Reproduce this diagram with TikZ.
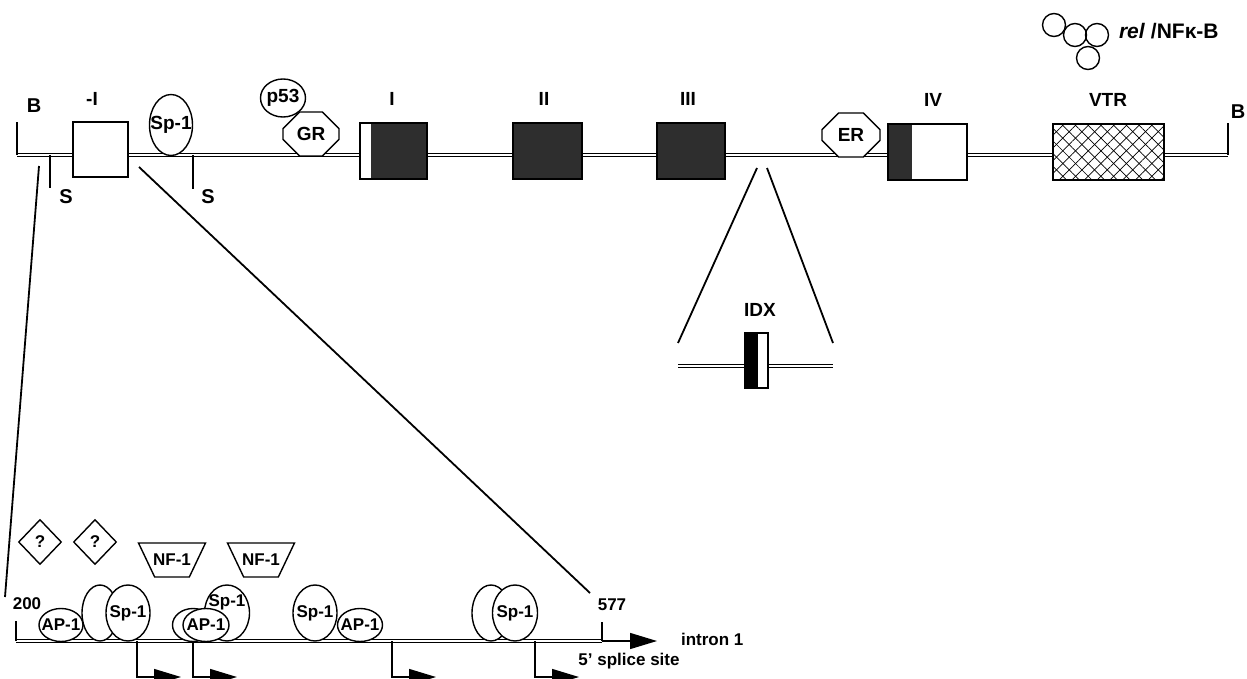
\documentclass[tikz,border=0pt]{standalone}
\usepackage{fontspec}
\setmainfont{Liberation Sans}
\usetikzlibrary{shapes.geometric,shapes.misc,arrows.meta,patterns.meta}

\begin{document}
\begin{tikzpicture}[x=1pt, y=-1pt, line width=1.4pt,
  font=\fontsize{17}{20}\selectfont\bfseries,
  dna/.style={double, double distance=1.6pt, line width=0.8pt},
  exon/.style={draw, fill=black!82, minimum height=56pt, inner sep=0pt},
  fac/.style={draw, fill=white, ellipse, inner sep=1pt},
  oct/.style={draw, fill=white, chamfered rectangle, chamfered rectangle xsep=10pt,
    chamfered rectangle ysep=10pt, inner sep=0pt, minimum width=56pt, minimum height=44pt},
  nfbox/.style={trapezium, draw, shape border rotate=180, trapezium stretches, trapezium angle=65,
    minimum width=67pt, minimum height=34pt, inner sep=2pt},
  relc/.style={circle, draw, minimum size=23pt, inner sep=0pt},
  tf/.style={font=\fontsize{19}{22}\selectfont\bfseries},
  lbl/.style={font=\fontsize{19}{22}\selectfont\bfseries},
  site/.style={font=\fontsize{20}{24}\selectfont\bfseries},
  tss/.style={-{Triangle[length=27pt,width=16pt]}},
  zoomline/.style={line width=1.8pt}]
\useasboundingbox (0,0) rectangle (1247,679);

% locus
\coordinate (locL) at (17,155);
\coordinate (locR) at (1228,155);
\draw[dna] (locL) -- (locR);
\draw (locL) -- ++(0,-33);
\draw (locR) -- ++(0,-32);
\node[site] (lblBl) at (34,106) {B};
\node[site] (lblBr) at (1238,112) {B};
\coordinate (s1) at (50,155);
\coordinate (s2) at (193,155);
\draw (s1) -- ++(0,33);
\draw (s2) -- ++(0,34);
\node[site] (lblS1) at (66,197) {S};
\node[site] (lblS2) at (208,197) {S};

\node[draw, fill=white, minimum width=55pt, minimum height=55pt] (exm1) at (100.5,149.5) {};
\node[exon, minimum width=67pt, path picture={\fill[white] (path picture bounding box.north west)
  rectangle ([xshift=11pt]path picture bounding box.south west);}] (ex1) at (393.5,151) {};
\node[exon, minimum width=69pt] (ex2) at (547.5,151) {};
\node[exon, minimum width=68pt] (ex3) at (691,151) {};
\node[exon, fill=white, minimum width=79pt, path picture={\fill[black!82] (path picture bounding box.north west)
  rectangle ([xshift=24pt]path picture bounding box.south west);}] (ex4) at (927.5,152) {};
\node[draw, fill=white, minimum width=111pt, minimum height=56pt, inner sep=0pt,
  postaction={pattern={Lines[angle=45,distance=9pt,line width=0.7pt]}},
  postaction={pattern={Lines[angle=-45,distance=9pt,line width=0.7pt]}}] (vtr) at (1108.5,152) {};

\node[lbl] (lblm1) at (92,99) {-I};
\node[lbl] (lbl1) at (392,99) {I};
\node[lbl] (lbl2) at (544,99) {II};
\node[lbl] (lbl3) at (688,99) {III};
\node[lbl] (lbl4) at (933,100) {IV};
\node[lbl] (lblvtr) at (1108,100) {VTR};

\node[fac, minimum width=43pt, minimum height=61pt, label={[tf]center:Sp-1}] (sp1top) at (171,125) {};
\node[fac, minimum width=45pt, minimum height=38pt, label={[tf]center:p53}] (p53) at (283,98) {};
\node[oct, tf] (gr) at (311,134) {GR};
\node[oct, tf, minimum width=58pt] (er) at (851,135) {ER};

% rel/NF-kB legend
\node[relc] (rel1) at (1054,25) {};
\node[relc] (rel2) at (1075,35) {};
\node[relc] (rel3) at (1097,35) {};
\node[relc] (rel4) at (1088,58) {};
\node[font=\fontsize{21}{24}\selectfont\bfseries, anchor=west] (rellbl) at (1115,31) {\textit{rel} /NFκ-B};

% zoom lines
\coordinate (za) at (39,166);
\coordinate (zb) at (139,167);
\coordinate (zc) at (5,597);
\coordinate (zd) at (590,593);
\draw[zoomline] (za) -- (zc);
\draw[zoomline] (zb) -- (zd);
\coordinate (ia) at (757,168);
\coordinate (ib) at (767,168);
\coordinate (ic) at (678,343);
\coordinate (id) at (833,343);
\draw[zoomline] (ia) -- (ic);
\draw[zoomline] (ib) -- (id);

% IDX
\node[lbl] (lblidx) at (760,310) {IDX};
\coordinate (idxL) at (678,366);
\coordinate (idxR) at (833,366);
\draw[dna] (idxL) -- (idxR);
\node[draw, fill=white, minimum width=23pt, minimum height=55pt, inner sep=0pt,
  path picture={\fill[black] (path picture bounding box.north west)
  rectangle ([xshift=13pt]path picture bounding box.south west);}] (idx) at (756.5,360.5) {};

% promoter
\coordinate (p200) at (16,641);
\coordinate (p577) at (602,641);
\draw[dna] (p200) -- (p577);
\draw (p200) -- ++(0,-20);
\draw (p577) -- ++(0,-19);
\node (lbl200) at (27,604) {200};
\node (lbl577) at (612,605) {577};
\coordinate (intr) at (657,641);
\draw[-{Triangle[length=27pt,width=16pt]}] (p577) -- (intr);
\node[anchor=west] (lblintr) at (677,639) {intron 1};
\node (lblsplice) at (629,661) {5’ splice site};

\node[diamond, draw, minimum width=43pt, minimum height=45pt, inner sep=0pt] (q1) at (40,542) {?};
\node[diamond, draw, minimum width=43pt, minimum height=45pt, inner sep=0pt] (q2) at (95,542) {?};
\node[nfbox, label=center:NF-1] (nf1a) at (172,560) {};
\node[nfbox, label=center:NF-1] (nf1b) at (261,560) {};

\node[fac, minimum width=44pt, minimum height=33pt, label=center:AP-1] (ap1a) at (61,625) {};
\node[fac, minimum width=36pt, minimum height=56pt] (bl1) at (100,613) {};
\node[fac, minimum width=44pt, minimum height=56pt, label=center:Sp-1] (sp1a) at (128,613) {};
\node[fac, minimum width=41pt, minimum height=33pt] (bl2) at (193,625) {};
\node[fac, minimum width=45pt, minimum height=56pt, label={[yshift=11pt]center:Sp-1}] (sp1b) at (227,613) {};
\node[fac, minimum width=46pt, minimum height=33pt, label=center:AP-1] (ap1b) at (206,625) {};
\node[fac, minimum width=44pt, minimum height=56pt, label=center:Sp-1] (sp1c) at (315,613) {};
\node[fac, minimum width=45pt, minimum height=33pt, label=center:AP-1] (ap1c) at (360,625) {};
\node[fac, minimum width=38pt, minimum height=56pt] (bl4) at (491,613) {};
\node[fac, minimum width=45pt, minimum height=56pt, label=center:Sp-1] (sp1d) at (515,613) {};

% start sites
\coordinate (t1) at (137,641);
\coordinate (t2) at (193,641);
\coordinate (t3) at (392,641);
\coordinate (t4) at (535,641);
\foreach \t in {t1,t2,t3,t4}
  \draw[tss] (\t) |- ++(44,36);
\end{tikzpicture}
\end{document}
